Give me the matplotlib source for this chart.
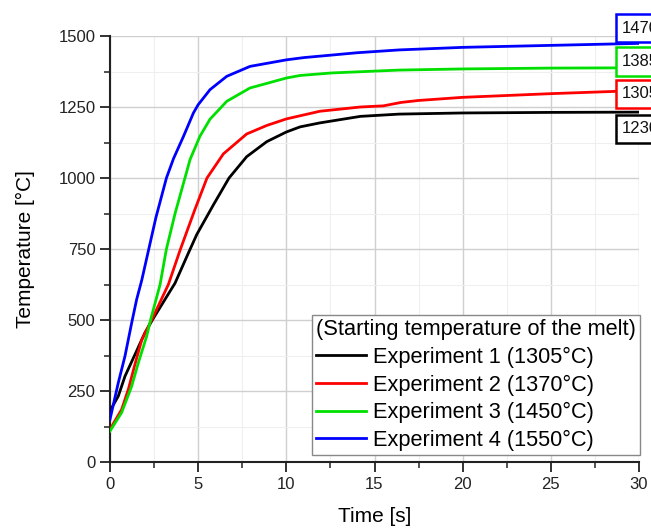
import matplotlib
matplotlib.use("Agg")
import matplotlib.pyplot as plt
from matplotlib.ticker import MultipleLocator

plt.rcParams['font.family'] = ['Liberation Sans', 'DejaVu Sans']

# ---- data ----
t_exp1 = [0, 0.47, 0.85, 1.42, 1.98, 2.45, 3.69, 4.44, 4.92, 5.86, 6.75, 7.75, 8.89, 10, 10.78, 11.9, 14.2, 16.4, 20, 25, 30]
T_exp1 = [180, 232, 302, 379, 455, 505, 630, 735, 801, 905, 1000, 1075, 1128, 1162, 1180, 1194, 1217, 1225, 1229, 1231, 1232]

t_exp2 = [0, 0.66, 1.04, 1.42, 1.8, 2.4, 3.31, 3.97, 4.35, 4.82, 5.5, 6.43, 7.75, 8.89, 10, 11.9, 14.2, 15.5, 16.5, 17.5, 20, 25, 30]
T_exp2 = [115, 185, 256, 345, 430, 505, 625, 745, 810, 890, 1000, 1085, 1155, 1185, 1208, 1235, 1250, 1254, 1266, 1273, 1284, 1297, 1308]

t_exp3 = [0, 0.66, 1.23, 1.61, 2.08, 2.3, 2.84, 3.2, 3.4, 3.69, 4.25, 4.54, 5.1, 5.67, 6.62, 7.94, 10, 10.78, 12.6, 16.4, 20, 25, 30]
T_exp3 = [109, 174, 267, 350, 443, 500, 625, 750, 801, 875, 1000, 1065, 1147, 1207, 1270, 1317, 1352, 1361, 1370, 1380, 1384, 1387, 1388]

t_exp4 = [0, 0.47, 0.85, 1.23, 1.51, 1.8, 2.2, 2.6, 3.2, 3.6, 4.17, 4.73, 5.0, 5.67, 6.62, 7.94, 10, 11, 12.6, 14, 16.4, 20, 25, 30]
T_exp4 = [150, 279, 373, 490, 572, 640, 750, 860, 1000, 1068, 1147, 1229, 1258, 1311, 1358, 1393, 1416, 1424, 1433, 1441, 1451, 1460, 1467, 1474]

labels = ["Experiment 1 (1305°C)", "Experiment 2 (1370°C)",
          "Experiment 3 (1450°C)", "Experiment 4 (1550°C)"]
colors = ["#000000", "#ff0000", "#00e000", "#0000ff"]
end_labels = ["1230", "1305", "1385", "1470"]
end_label_pos = [1173, 1296, 1410, 1528]

series = [(t_exp1, T_exp1), (t_exp2, T_exp2), (t_exp3, T_exp3), (t_exp4, T_exp4)]

fig = plt.figure(figsize=(6.51, 5.30), dpi=100)
ax = fig.add_axes([110/651, 68/530, (639-110)/651, (462-36)/530])

for (t, T), lab, c in zip(series, labels, colors):
    ax.plot(t, T, color=c, lw=2.0, label=lab, zorder=3)

ax.set_xlim(0, 30)
ax.set_ylim(0, 1500)
ax.xaxis.set_major_locator(MultipleLocator(5))
ax.xaxis.set_minor_locator(MultipleLocator(2.5))
ax.yaxis.set_major_locator(MultipleLocator(250))
ax.yaxis.set_minor_locator(MultipleLocator(125))

ax.grid(which='major', color='#cfcfcf', lw=1.0, zorder=0)
ax.grid(which='minor', color='#efefef', lw=0.8, zorder=0)
ax.set_axisbelow(True)

for s in ['top', 'right']:
    ax.spines[s].set_visible(False)
for s in ['left', 'bottom']:
    ax.spines[s].set_linewidth(1.5)
    ax.spines[s].set_color('#222222')

ax.tick_params(which='major', direction='out', length=7, width=1.3, labelsize=12, colors='#222222')
ax.tick_params(which='minor', direction='out', length=4, width=1.1, colors='#222222')

ax.set_xlabel("Time [s]", fontsize=15, labelpad=11)
ax.set_ylabel("Temperature [°C]", fontsize=15, labelpad=17)

for lab, y, c in zip(end_labels, end_label_pos, colors):
    ax.text(29.05, y, lab, fontsize=12, va='center', ha='left', color='#111111',
            bbox=dict(boxstyle='square,pad=0.4', fc='white', ec=c, lw=1.8),
            zorder=6, clip_on=False)

leg = ax.legend(loc='lower right', bbox_to_anchor=(1.002, 7/426), borderaxespad=0,
                fontsize=15.7, title="(Starting temperature of the melt)", title_fontsize=15.7,
                handlelength=2.3, handletextpad=0.3, labelspacing=0.3, borderpad=0.18,
                fancybox=False, framealpha=1, edgecolor='#888888', alignment='left')
leg.get_frame().set_linewidth(1.0)
leg.set_zorder(5)

fig.savefig("out.png", dpi=100)
